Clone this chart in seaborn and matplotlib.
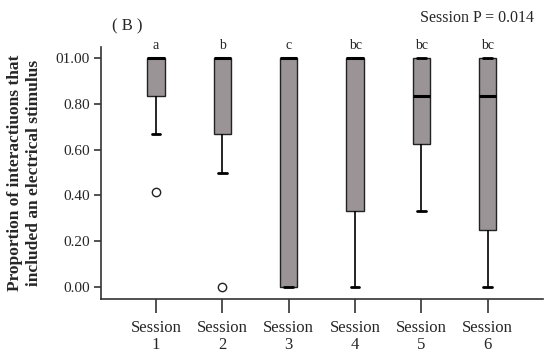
import pandas as pd
import matplotlib.pyplot as plt
import seaborn as sns

session_1 = [0.417, 0.667, 0.833, 0.833, 1, 1, 1, 1, 1]
session_2 = [0.0, 0.5, 0.667, 0.833, 1, 1, 1, 1, 1]
session_3 = [0.0, 0.0, 0.0, 1, 1, 1, 1, 1, 1]
session_4 = [0.0, 0.333, 0.333, 0.667, 1, 1, 1, 1, 1]
session_5 = [0.333, 0.5, 0.625, 0.75, 0.833, 1, 1, 1, 1]
session_6 = [0.0, 0.25, 0.25, 0.5, 0.833, 1, 1, 1, 1]

sessions = ["Session\n1", "Session\n2", "Session\n3", "Session\n4", "Session\n5", "Session\n6"]
letters = ["a", "b", "c", "bc", "bc", "bc"]
y_ticks = [0.0, 0.2, 0.4, 0.6, 0.8, 1.0]
y_labels = ["0.00", "0.20", "0.40", "0.60", "0.80", "01.00"]

all_values = [session_1, session_2, session_3, session_4, session_5, session_6]
df = pd.DataFrame(
    [(s, v) for s, vals in zip(sessions, all_values) for v in vals],
    columns=["Session", "Proportion"],
)

sns.set_style("white")
plt.rcParams["font.family"] = ["Liberation Serif", "DejaVu Serif"]

fig = plt.figure(figsize=(5.5, 3.58), dpi=100)
ax = fig.add_axes([0.1836, 0.1648, 0.8034, 0.7039])

sns.boxplot(
    data=df, x="Session", y="Proportion", order=sessions, ax=ax,
    color="#9a9496", width=0.26, linewidth=1.0, linecolor="#222222",
    whis=1.5,
    medianprops={"color": "black", "linewidth": 2.2},
    whiskerprops={"color": "black", "linewidth": 1.2},
    capprops={"color": "black", "linewidth": 2.0},
    flierprops={"marker": "o", "markerfacecolor": "white",
                "markeredgecolor": "#222222", "markersize": 6,
                "markeredgewidth": 1.0},
)
for patch in ax.patches:
    patch.set_facecolor("#9a9496")

ax.set_xlim(-0.83, 5.83)
ax.set_ylim(-0.052, 1.048)
ax.set_yticks(y_ticks)
ax.set_yticklabels(y_labels, fontsize=11)
ax.set_xticks(range(len(sessions)))
ax.set_xticklabels(sessions, fontsize=12, linespacing=1.1)
ax.set_xlabel("")
ax.set_ylabel("Proportion of interactiuons that\nincluded an electrical stimulus",
              fontsize=12.5, fontweight="bold", labelpad=10, linespacing=1.2)

for side in ["top", "right"]:
    ax.spines[side].set_visible(False)
for side in ["left", "bottom"]:
    ax.spines[side].set_color("#333333")
    ax.spines[side].set_linewidth(1.2)
ax.tick_params(axis="y", left=True, direction="out", length=5, width=1.2,
               color="#333333", pad=3)
ax.tick_params(axis="x", bottom=True, direction="out", length=10, width=1.2,
               color="#333333", pad=5)

for i, lab in enumerate(letters):
    ax.text(i, 1.055, lab, ha="center", va="center", fontsize=10, clip_on=False)

fig.text(0.231, 0.925, "( B )", ha="center", va="center", fontsize=12)
fig.text(0.868, 0.95, "Session P = 0.014", ha="center", va="center", fontsize=11.5)

plt.savefig("out.png", dpi=100)
plt.close()
